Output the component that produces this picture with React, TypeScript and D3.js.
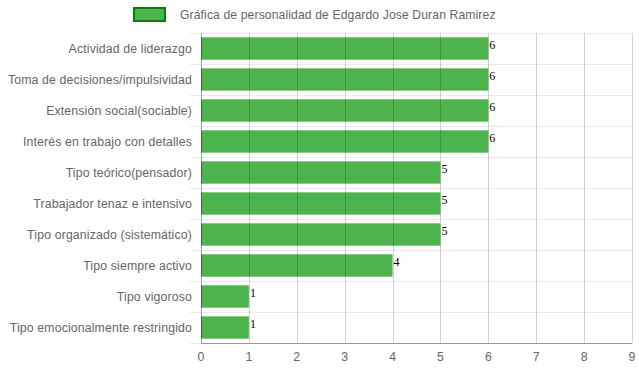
import React from "react";
import * as d3 from "d3";

const categories = [
  "Actividad de liderazgo",
  "Toma de decisiones/impulsividad",
  "Extensión social(sociable)",
  "Interés en trabajo con detalles",
  "Tipo teórico(pensador)",
  "Trabajador tenaz e intensivo",
  "Tipo organizado (sistemático)",
  "Tipo siempre activo",
  "Tipo vigoroso",
  "Tipo emocionalmente restringido",
];
const values = [6, 6, 6, 6, 5, 5, 5, 4, 1, 1];
const xTicks = [0, 1, 2, 3, 4, 5, 6, 7, 8, 9];
const legendLabel = "Gráfica de personalidad de Edgardo Jose Duran Ramirez";

const W = 639;
const H = 372;
const left = 201;
const right = 632;
const top = 33;
const bottom = 343;
const font = "'Liberation Sans', Arial, Helvetica, sans-serif";

export default function App() {
  const x = d3.scaleLinear().domain([0, 9]).range([left, right]);
  const y = d3.scaleBand<string>().domain(categories).range([top, bottom]).paddingInner(0).paddingOuter(0);
  const bw = y.bandwidth();
  const barH = bw * 0.72;
  const bounds = d3.range(categories.length + 1).map((i) => top + i * bw);

  return (
    <svg width={W} height={H} style={{ position: "absolute", left: 0, top: 0 }}>
      <rect x={0} y={0} width={W} height={H} fill="#fff" />
      {/* legend */}
      <rect x={134} y={8} width={31} height={13} fill="#4db34d" stroke="#0a7d0a" strokeWidth={2} />
      <text x={180} y={18.5} fontFamily={font} fontSize={12.2} letterSpacing={0.1} fill="#666">
        {legendLabel}
      </text>
      {/* horizontal grid lines */}
      {bounds.map((b, i) => (
        <line key={"h" + i} x1={190} x2={right} y1={Math.round(b) + 0.5} y2={Math.round(b) + 0.5} stroke="#ebebeb" strokeWidth={1} />
      ))}
      {/* bars */}
      {categories.map((c, i) => (
        <rect
          key={c}
          x={x(0)}
          y={(y(c) as number) + (bw - barH) / 2}
          width={x(values[i]) - x(0)}
          height={barH}
          fill="#4db34d"
        />
      ))}
      {/* vertical grid lines */}
      {xTicks.map((t) => (
        <line
          key={"v" + t}
          x1={Math.round(x(t)) + 0.5}
          x2={Math.round(x(t)) + 0.5}
          y1={top}
          y2={bottom}
          stroke={t === 0 ? "rgba(0,0,0,0.35)" : "rgba(0,0,0,0.18)"}
          strokeWidth={1}
        />
      ))}
      {/* x axis line */}
      <line x1={left} x2={right} y1={bottom + 0.5} y2={bottom + 0.5} stroke="rgba(0,0,0,0.35)" strokeWidth={1} />
      {/* x tick labels */}
      {xTicks.map((t) => (
        <text key={"xt" + t} x={x(t)} y={361} textAnchor="middle" fontFamily={font} fontSize={12.3} fill="#666">
          {t}
        </text>
      ))}
      {/* y labels */}
      {categories.map((c) => (
        <text
          key={"yl" + c}
          x={192}
          y={(y(c) as number) + bw / 2 + 4.5}
          textAnchor="end"
          fontFamily={font}
          fontSize={12.3}
          letterSpacing={0.14}
          fill="#666"
        >
          {c}
        </text>
      ))}
      {/* value labels */}
      {categories.map((c, i) => (
        <text
          key={"vl" + c}
          x={x(values[i]) + 1}
          y={(y(c) as number) + bw / 2 + 0.5}
          fontFamily="'Liberation Serif', 'Times New Roman', serif"
          fontSize={12}
          fill="#000"
        >
          {values[i]}
        </text>
      ))}
    </svg>
  );
}
